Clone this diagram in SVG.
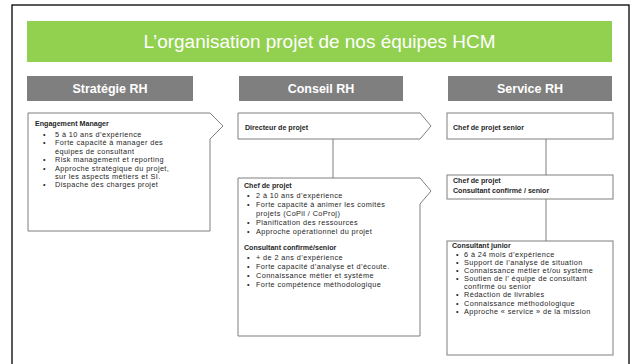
<svg xmlns="http://www.w3.org/2000/svg" width="633" height="364" viewBox="0 0 633 364">
<style>
.frame{fill:#fff;stroke:#000;stroke-width:1.3}
.banner{fill:#92D050}
.title{font-family:"Liberation Sans",Arial,sans-serif;font-size:19px;fill:#fff;text-anchor:middle}
.hdr{fill:#7F7F7F}
.hdrt{font-family:"Liberation Sans",Arial,sans-serif;font-size:12.5px;font-weight:bold;fill:#fff;text-anchor:middle}
.box{fill:#fff;stroke:#7F7F7F;stroke-width:1}
.conn line{stroke:#7F7F7F;stroke-width:1}
.t{font-family:"Liberation Sans",Arial,sans-serif;font-size:7.3px;letter-spacing:0.4px;fill:#262626}
.t.b{font-weight:bold;font-size:7.1px;letter-spacing:0}
</style>
<rect class="frame" x="12" y="5" width="617" height="375"/>
<g id="banner">
<rect class="banner" x="27" y="21" width="585" height="41"/>
<text class="title" x="319.5" y="48" textLength="352" lengthAdjust="spacingAndGlyphs">L’organisation projet de nos équipes HCM</text>
</g>
<g id="hdr-strategie"><rect class="hdr" x="27" y="76" width="166" height="25"/><text class="hdrt" x="110" y="93">Stratégie RH</text></g>
<g id="hdr-conseil"><rect class="hdr" x="239" y="76" width="164" height="25"/><text class="hdrt" x="321" y="93">Conseil RH</text></g>
<g id="hdr-service"><rect class="hdr" x="448" y="76" width="164" height="25"/><text class="hdrt" x="530" y="93">Service RH</text></g>
<g class="conn" id="connectors">
<line x1="333" y1="139" x2="333" y2="178"/>
<line x1="546" y1="139" x2="546" y2="175"/>
<line x1="546" y1="199" x2="546" y2="241"/>
</g>
<g id="engagement">
<polygon class="box" points="28,113 210,113 223,126 210,139 210,231 28,231"/>
<text class="t b" x="35" y="126">Engagement Manager</text>
<text class="t" y="136.5"><tspan x="43">•</tspan><tspan x="55">5 à 10 ans d’expérience</tspan></text>
<text class="t" y="145"><tspan x="43">•</tspan><tspan x="55">Forte capacité à manager des</tspan></text>
<text class="t" x="55" y="153.5">équipes  de consultant</text>
<text class="t" y="162"><tspan x="43">•</tspan><tspan x="55">Risk management et reporting</tspan></text>
<text class="t" y="170.5"><tspan x="43">•</tspan><tspan x="55">Approche stratégique du projet,</tspan></text>
<text class="t" x="55" y="178.5">sur les aspects métiers et SI.</text>
<text class="t" y="187"><tspan x="43">•</tspan><tspan x="55">Dispache des charges projet</tspan></text>
</g>
<g id="directeur">
<polygon class="box" points="238,113 420,113 431,126 420,139 238,139"/>
<text class="t b" x="245" y="130">Directeur de projet</text>
</g>
<g id="chef-conseil">
<polygon class="box" points="238,178 420,178 431,191 420,204 420,336 238,336"/>
<text class="t b" x="244" y="187.5">Chef de projet</text>
<text class="t" y="197.5"><tspan x="247">•</tspan><tspan x="256">2 à 10 ans d’expérience</tspan></text>
<text class="t" y="206.5"><tspan x="247">•</tspan><tspan x="256">Forte capacité à animer les  comités</tspan></text>
<text class="t" x="256" y="215.5">projets (CoPil / CoProj)</text>
<text class="t" y="224.5"><tspan x="247">•</tspan><tspan x="256">Planification des ressources</tspan></text>
<text class="t" y="233.5"><tspan x="247">•</tspan><tspan x="256">Approche opérationnel du projet</tspan></text>
<text class="t b" x="244" y="250">Consultant confirmé/senior</text>
<text class="t" y="260"><tspan x="247">•</tspan><tspan x="256">+ de 2 ans d’expérience</tspan></text>
<text class="t" y="269"><tspan x="247">•</tspan><tspan x="256">Forte capacité d’analyse et d’écoute.</tspan></text>
<text class="t" y="278"><tspan x="247">•</tspan><tspan x="256">Connaissance métier et système</tspan></text>
<text class="t" y="287"><tspan x="247">•</tspan><tspan x="256">Forte compétence méthodologique</tspan></text>
</g>
<g id="chef-senior">
<rect class="box" x="447" y="113" width="166" height="26"/>
<text class="t b" x="453" y="129.5">Chef de projet senior</text>
</g>
<g id="chef-consultant">
<rect class="box" x="447" y="175" width="166" height="24"/>
<text class="t b" x="453" y="182.5">Chef de projet</text>
<text class="t b" x="453" y="192.5">Consultant confirmé / senior</text>
</g>
<g id="consultant-junior">
<rect class="box" x="447" y="241" width="166" height="114"/>
<text class="t b" x="452" y="248">Consultant junior</text>
<text class="t" y="256.5"><tspan x="456">•</tspan><tspan x="464">6 à 24 mois d’expérience</tspan></text>
<text class="t" y="264.5"><tspan x="456">•</tspan><tspan x="464">Support de l’analyse de situation</tspan></text>
<text class="t" y="272.5"><tspan x="456">•</tspan><tspan x="464">Connaissance métier et/ou  système</tspan></text>
<text class="t" y="281"><tspan x="456">•</tspan><tspan x="464">Soutien de l’ équipe de consultant</tspan></text>
<text class="t" x="464" y="289">confirmé ou senior</text>
<text class="t" y="297"><tspan x="456">•</tspan><tspan x="464">Rédaction de livrables</tspan></text>
<text class="t" y="305.5"><tspan x="456">•</tspan><tspan x="464">Connaissance méthodologique</tspan></text>
<text class="t" y="313.5"><tspan x="456">•</tspan><tspan x="464">Approche « service » de la mission</tspan></text>
</g>
</svg>
